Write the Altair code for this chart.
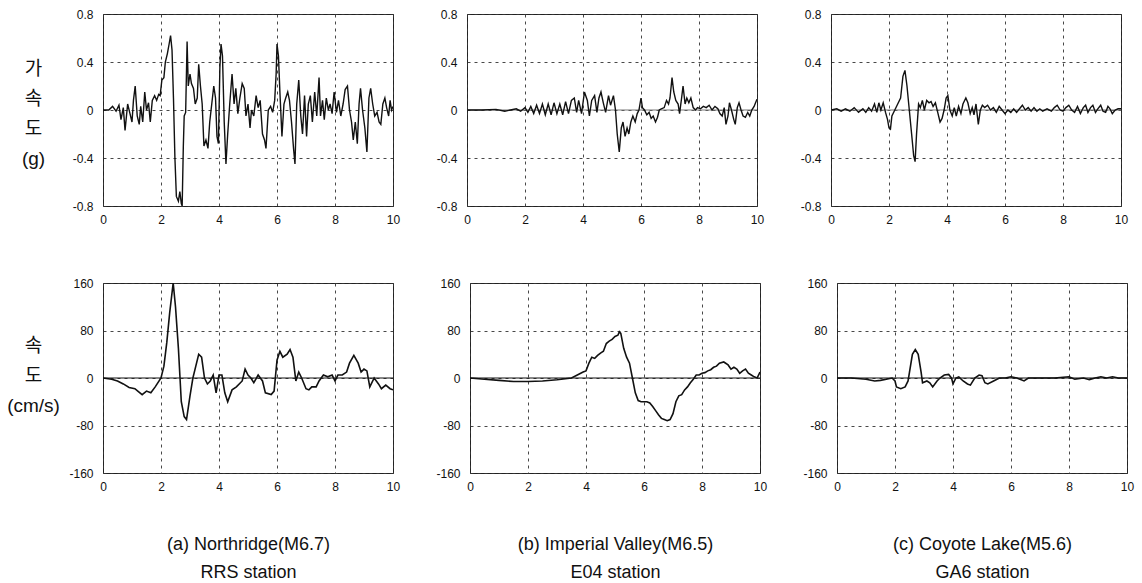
import altair as alt
import pandas as pd

# Ground-motion records: acceleration (g) and velocity (cm/s) over the first 10 s

# (a) Northridge M6.7, RRS station
acc_a_t = [0, 0.2, 0.33, 0.45, 0.55, 0.62, 0.7, 0.76, 0.85, 0.92, 1.0, 1.05, 1.11, 1.18, 1.25, 1.3, 1.37,
           1.44, 1.5, 1.57, 1.63, 1.7, 1.78, 1.85, 1.92, 1.97, 2.03, 2.1, 2.15, 2.22, 2.28, 2.33, 2.38,
           2.43, 2.48, 2.53, 2.6, 2.65, 2.7, 2.73, 2.77, 2.8, 2.85, 2.9, 2.94, 3.0, 3.05, 3.12, 3.18,
           3.25, 3.3, 3.36, 3.42, 3.48, 3.55, 3.62, 3.68, 3.75, 3.82, 3.88, 3.93, 3.98, 4.03, 4.07,
           4.12, 4.18, 4.24, 4.3, 4.37, 4.45, 4.52, 4.58, 4.65, 4.72, 4.8, 4.87, 4.93, 5.0, 5.07, 5.12,
           5.2, 5.28, 5.35, 5.42, 5.5, 5.57, 5.62, 5.7, 5.78, 5.85, 5.92, 5.97, 6.0, 6.05, 6.1, 6.17,
           6.24, 6.3, 6.37, 6.43, 6.5, 6.57, 6.62, 6.68, 6.75, 6.82, 6.88, 6.95, 7.02, 7.08, 7.15,
           7.22, 7.3, 7.37, 7.45, 7.5, 7.57, 7.63, 7.7, 7.77, 7.83, 7.9, 7.97, 8.05, 8.12, 8.2, 8.28,
           8.35, 8.43, 8.5, 8.57, 8.63, 8.7, 8.77, 8.83, 8.88, 8.95, 9.03, 9.1, 9.17, 9.23, 9.3, 9.37,
           9.45, 9.52, 9.58, 9.65, 9.72, 9.78, 9.85, 9.9, 9.95, 10.0]
acc_a_g = [0, 0.0, 0.03, -0.01, 0.04, -0.08, 0.02, -0.17, 0.05, -0.02, -0.1, 0.08, 0.2, -0.05, -0.12, 0.03,
           -0.1, 0.15, 0.0, 0.06, -0.1, 0.08, 0.12, 0.08, 0.13, 0.12, 0.25, 0.27, 0.4, 0.47, 0.55, 0.62,
           0.5, 0.1, -0.4, -0.72, -0.76, -0.68, -0.78, -0.8, -0.3, -0.05, -0.02, 0.57, 0.2, 0.3, 0.22,
           0.18, 0.05, 0.1, 0.38, 0.2, 0.05, -0.3, -0.25, -0.32, -0.1, 0.05, 0.2, 0.1, -0.22, -0.28,
           0.35, 0.55, 0.45, -0.1, -0.45, -0.2, 0.05, 0.3, 0.05, 0.18, -0.03, 0.1, 0.22, 0.18, -0.05,
           0.05, -0.15, 0.0, -0.05, 0.12, 0.02, 0.08, -0.2, -0.25, -0.32, 0.0, 0.03, -0.02, 0.08, 0.3,
           0.55, 0.45, 0.15, -0.22, 0.05, 0.1, 0.15, 0.08, -0.1, -0.32, -0.45, 0.05, 0.25, -0.05, -0.2,
           0.12, -0.22, 0.05, 0.12, -0.1, 0.15, -0.05, 0.27, -0.05, 0.08, -0.08, 0.1, 0.0, 0.05, -0.03,
           0.15, -0.02, 0.08, -0.05, 0.05, 0.17, 0.2, 0.0, -0.1, -0.25, -0.1, -0.28, 0.05, 0.18, 0.0,
           -0.15, -0.35, 0.1, 0.18, 0.05, -0.05, -0.02, -0.1, -0.12, 0.05, 0.1, 0.02, -0.05, 0.08, 0.0,
           0.03]
vel_a_t = [0, 0.3, 0.5, 0.7, 0.9, 1.1, 1.2, 1.35, 1.5, 1.65, 1.8, 2.0, 2.1, 2.2, 2.3, 2.42, 2.5, 2.6, 2.7,
           2.8, 2.88, 3.0, 3.1, 3.2, 3.3, 3.4, 3.5, 3.6, 3.7, 3.8, 3.9, 4.0, 4.1, 4.2, 4.3, 4.45, 4.6,
           4.8, 4.9, 5.0, 5.1, 5.2, 5.35, 5.5, 5.6, 5.8, 5.9, 6.0, 6.1, 6.2, 6.35, 6.45, 6.55, 6.65,
           6.75, 6.85, 7.0, 7.1, 7.2, 7.35, 7.45, 7.6, 7.75, 7.9, 8.0, 8.1, 8.25, 8.4, 8.5, 8.65, 8.8,
           8.9, 9.0, 9.1, 9.2, 9.35, 9.5, 9.6, 9.75, 9.9, 10.0]
vel_a_v = [0, -2, -5, -10, -16, -18, -22, -28, -22, -25, -15, 0, 20, 60, 110, 160, 120, 50, -40, -65, -70,
           -30, 0, 20, 40, 35, 0, -10, -5, 5, -25, 5, 5, -25, -40, -20, -15, -5, 15, 5, 0, -8, 5, -5,
           -25, -28, -22, 30, 45, 35, 40, 48, 35, -5, 10, 0, -18, -20, -15, -15, -5, 5, 2, 5, -5, 5, 5,
           10, 25, 38, 25, 10, 15, 12, -15, 0, -10, -18, -12, -18, -20]

# (b) Imperial Valley M6.5, E04 station
acc_b_t = [0, 0.5, 1.0, 1.3, 1.5, 1.7, 1.85, 2.0, 2.1, 2.2, 2.3, 2.4, 2.5, 2.6, 2.7, 2.8, 2.9, 3.0, 3.1,
           3.2, 3.3, 3.4, 3.5, 3.6, 3.7, 3.78, 3.85, 3.95, 4.05, 4.15, 4.22, 4.3, 4.4, 4.48, 4.55, 4.62,
           4.7, 4.78, 4.88, 4.95, 5.05, 5.12, 5.18, 5.25, 5.32, 5.38, 5.45, 5.52, 5.58, 5.65, 5.72, 5.8,
           5.87, 5.93, 6.0, 6.05, 6.12, 6.2, 6.28, 6.35, 6.42, 6.5, 6.57, 6.63, 6.7, 6.8, 6.88, 6.95,
           7.0, 7.07, 7.13, 7.2, 7.28, 7.33, 7.4, 7.45, 7.52, 7.58, 7.65, 7.72, 7.8, 7.88, 7.95, 8.05,
           8.15, 8.25, 8.35, 8.45, 8.55, 8.65, 8.72, 8.8, 8.87, 8.93, 9.0, 9.05, 9.12, 9.2, 9.25, 9.32,
           9.38, 9.45, 9.52, 9.6, 9.68, 9.75, 9.82, 9.9, 9.95, 10.0]
acc_b_g = [0, 0.0, 0.005, -0.01, 0.0, 0.01, -0.01, 0.02, -0.02, 0.03, -0.03, 0.04, -0.03, 0.05, -0.04,
           0.05, -0.04, 0.06, -0.03, 0.05, -0.04, 0.07, -0.03, 0.08, 0.1, -0.02, 0.08, -0.03, 0.15, 0.08,
           -0.05, 0.08, 0.12, -0.02, 0.1, 0.15, 0.06, -0.02, 0.12, 0.04, 0.12, 0.0, -0.2, -0.35, -0.15,
           -0.1, -0.22, -0.15, -0.2, -0.1, -0.05, -0.1, -0.03, 0.0, 0.1, 0.02, 0.0, -0.04, -0.02, -0.07,
           -0.05, -0.1, -0.06, 0.0, 0.01, 0.02, 0.08, 0.05, 0.1, 0.27, 0.15, 0.08, 0.05, -0.03, 0.1, 0.2,
           0.05, 0.1, 0.06, 0.1, 0.02, 0.0, 0.02, 0.01, 0.03, 0.02, 0.04, 0.0, 0.03, 0.01, -0.03, -0.05,
           0.02, -0.12, -0.05, 0.06, 0.0, -0.08, -0.12, 0.02, 0.06, 0.0, -0.05, -0.06, -0.02, -0.05, 0.0,
           0.03, 0.06, 0.09]
vel_b_t = [0, 0.5, 1.0, 1.5, 2.0, 2.5, 3.0, 3.5, 3.7, 3.9, 4.0, 4.1, 4.2, 4.3, 4.4, 4.5, 4.6, 4.7, 4.8,
           4.9, 5.0, 5.1, 5.15, 5.2, 5.3, 5.4, 5.5, 5.6, 5.7, 5.8, 5.9, 6.0, 6.1, 6.2, 6.3, 6.4, 6.5,
           6.6, 6.7, 6.8, 6.9, 7.0, 7.1, 7.2, 7.3, 7.4, 7.5, 7.6, 7.7, 7.8, 7.9, 8.0, 8.1, 8.2, 8.3,
           8.4, 8.5, 8.6, 8.75, 8.9, 9.0, 9.1, 9.2, 9.3, 9.4, 9.5, 9.6, 9.7, 9.8, 9.9, 10.0]
vel_b_v = [0, -2, -4, -6, -6, -5, -3, 0, 5, 10, 12, 25, 35, 33, 38, 42, 45, 58, 62, 65, 70, 72, 78, 75,
           50, 35, 25, 0, -25, -38, -40, -40, -40, -42, -48, -55, -62, -68, -70, -72, -70, -60, -40,
           -30, -28, -20, -15, -8, -2, 5, 5, 8, 9, 12, 14, 18, 20, 25, 27, 22, 15, 18, 15, 8, 12, 15, 8,
           5, 2, 0, 10]

# (c) Coyote Lake M5.6, GA6 station
acc_c_t = [0, 0.2, 0.35, 0.5, 0.65, 0.8, 0.95, 1.1, 1.2, 1.3, 1.4, 1.5, 1.58, 1.65, 1.72, 1.8, 1.88, 1.95,
           2.0, 2.05, 2.1, 2.2, 2.3, 2.4, 2.48, 2.55, 2.62, 2.7, 2.78, 2.85, 2.9, 2.95, 3.02, 3.08, 3.15,
           3.22, 3.3, 3.38, 3.45, 3.52, 3.6, 3.68, 3.76, 3.83, 3.9, 3.97, 4.03, 4.1, 4.18, 4.25, 4.32,
           4.4, 4.48, 4.55, 4.65, 4.72, 4.8, 4.87, 4.93, 5.0, 5.08, 5.15, 5.22, 5.3, 5.4, 5.5, 5.6, 5.7,
           5.8, 5.9, 6.0, 6.1, 6.2, 6.3, 6.4, 6.5, 6.6, 6.7, 6.8, 6.9, 7.0, 7.1, 7.2, 7.3, 7.45, 7.6,
           7.7, 7.8, 7.9, 8.0, 8.1, 8.2, 8.3, 8.4, 8.5, 8.6, 8.7, 8.78, 8.86, 8.95, 9.03, 9.12, 9.2,
           9.3, 9.38, 9.47, 9.55, 9.62, 9.7, 9.8, 9.9, 10.0]
acc_c_g = [0, 0.01, -0.01, 0.01, -0.01, 0.02, -0.02, 0.01, -0.02, 0.02, -0.01, 0.05, -0.02, 0.06, 0.0,
           0.06, -0.02, -0.08, -0.15, -0.16, -0.05, 0.0, 0.05, 0.1, 0.28, 0.33, 0.2, 0.0, -0.2, -0.38,
           -0.43, -0.2, 0.05, 0.02, 0.08, 0.0, 0.08, 0.06, 0.07, 0.03, 0.06, -0.02, -0.1, -0.07, 0.0, 0.1,
           0.12, 0.0, -0.05, 0.02, -0.05, 0.03, -0.03, 0.05, 0.1, 0.06, -0.03, 0.02, -0.04, 0.05, -0.12,
           0.0, 0.04, 0.02, 0.04, 0.0, 0.02, -0.02, 0.03, 0.0, -0.03, 0.0, -0.02, 0.01, -0.02, 0.01,
           0.04, 0.0, 0.02, -0.01, 0.02, -0.01, 0.01, -0.01, 0.01, -0.01, 0.02, 0.04, 0.0, -0.01, 0.02,
           0.04, 0.0, -0.02, 0.03, -0.03, 0.02, 0.04, -0.02, 0.02, 0.04, -0.02, 0.01, 0.04, -0.01, -0.02,
           0.03, 0.01, -0.03, 0.0, 0.01, 0.01]
vel_c_t = [0, 0.5, 1.0, 1.3, 1.5, 1.7, 1.9, 2.0, 2.05, 2.2, 2.35, 2.45, 2.5, 2.6, 2.7, 2.8, 2.9, 2.95,
           3.1, 3.2, 3.3, 3.45, 3.55, 3.7, 3.85, 3.95, 4.0, 4.1, 4.2, 4.35, 4.5, 4.6, 4.75, 4.9, 5.0,
           5.1, 5.2, 5.4, 5.6, 5.8, 6.0, 6.2, 6.45, 6.6, 7.0, 7.5, 8.0, 8.2, 8.5, 8.7, 8.9, 9.1, 9.3,
           9.5, 9.7, 10.0]
vel_c_v = [0, 0, -2, -5, -4, -2, 0, -5, -15, -18, -15, -5, 10, 40, 48, 40, 10, -8, -5, -8, -15, -5, 0,
           5, 6, 0, -10, 0, 2, -5, -10, -12, 0, 5, 4, -8, -10, -5, 0, 0, 2, 0, -5, 0, 0, 0, 2, -2, 0,
           -3, 0, 2, 0, 2, 0, 0]

acc_ticks = [-0.8, -0.4, 0, 0.4, 0.8]
vel_ticks = [-160, -80, 0, 80, 160]
time_ticks = [0, 2, 4, 6, 8, 10]

captions = [
    ["(a) Northridge(M6.7)", "RRS station"],
    ["(b) Imperial Valley(M6.5)", "E04 station"],
    ["(c) Coyote Lake(M5.6)", "GA6 station"],
]
acc_title = ["가", "속", "도", "(g)"]
vel_title = ["속", "도", "(cm/s)"]

PANEL_W = 290
TICK_FONT = "Liberation Sans"
TITLE_FONT = "Liberation Sans, Noto Sans CJK KR"
CAP_FONT = "Liberation Sans"


def panel(t, v, dom, ticks, fmt, height, line_w, zero_color, ytitle=None, title_y=0, caption=None):
    df = pd.DataFrame({"t": t, "v": v})
    x_axis = dict(values=time_ticks, ticks=False, domain=False, grid=True, gridDash=[3, 4],
                  gridColor="#333", gridWidth=0.9, labelFont=TICK_FONT, labelFontSize=12,
                  labelColor="#111", labelPadding=8, labelFlush=False)
    if caption is not None:
        x_axis.update(title=caption, titleFont=CAP_FONT, titleFontSize=18, titleFontWeight="normal",
                      titleColor="#111", titleLineHeight=28, titleBaseline="top", titleY=62)
    else:
        x_axis.update(title=None, minExtent=22, maxExtent=22)
    y_axis = dict(values=ticks, format=fmt, ticks=False, domain=False, grid=True, gridDash=[3, 4],
                  gridColor="#333", gridWidth=0.9, labelFont=TICK_FONT, labelFontSize=12,
                  labelColor="#111", labelPadding=10, minExtent=30, maxExtent=30,
                  labelExpr="replace(datum.label, '\u2212', '-')")
    if ytitle is not None:
        y_axis.update(title=ytitle, titleAngle=0, titleFont=TITLE_FONT, titleFontSize=19,
                      titleFontWeight="normal", titleColor="#111", titleLineHeight=30,
                      titleAlign="center", titleBaseline="top", titleX=-70, titleY=title_y)
    else:
        y_axis.update(title=None)

    x = alt.X("t:Q", scale=alt.Scale(domain=[0, 10], nice=False), axis=alt.Axis(**x_axis))
    y = alt.Y("v:Q", scale=alt.Scale(domain=dom, nice=False), axis=alt.Axis(**y_axis))
    line = alt.Chart(df).mark_line(color="#111", strokeWidth=line_w, clip=True).encode(x=x, y=y)
    layers = []
    if zero_color is not None:
        zero = alt.Chart(pd.DataFrame({"v": [0]})).mark_rule(color=zero_color, strokeWidth=1).encode(y=y)
        layers.append(zero)
    layers.append(line)
    return alt.layer(*layers).properties(width=PANEL_W, height=height)


top = alt.hconcat(
    panel(acc_a_t, acc_a_g, [-0.8, 0.8], acc_ticks, ".1~f", 192, 1.4, None, ytitle=acc_title, title_y=45),
    panel(acc_b_t, acc_b_g, [-0.8, 0.8], acc_ticks, ".1~f", 192, 1.4, "#777"),
    panel(acc_c_t, acc_c_g, [-0.8, 0.8], acc_ticks, ".1~f", 192, 1.4, "#777"),
    spacing=34,
)
bottom = alt.hconcat(
    panel(vel_a_t, vel_a_v, [-160, 160], vel_ticks, "d", 190, 1.6, "#111", ytitle=vel_title, title_y=53,
          caption=captions[0]),
    panel(vel_b_t, vel_b_v, [-160, 160], vel_ticks, "d", 190, 1.6, "#111", caption=captions[1]),
    panel(vel_c_t, vel_c_v, [-160, 160], vel_ticks, "d", 190, 1.6, "#111", caption=captions[2]),
    spacing=34,
)

chart = alt.vconcat(top, bottom, spacing=47).properties(
    padding={"left": 6, "top": 7, "right": 3, "bottom": 0},
    background="white",
).configure_view(stroke="#222", strokeWidth=1)

chart.save("out.html", embed_options={"renderer": "svg", "actions": False})
